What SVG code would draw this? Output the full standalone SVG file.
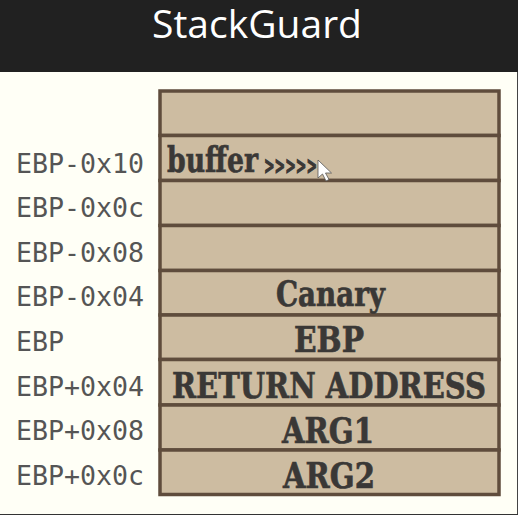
<svg xmlns="http://www.w3.org/2000/svg" width="518" height="515" viewBox="0 0 518 515">
<style>
.l{font-family:"DejaVu Sans Mono","Liberation Mono",monospace;font-size:26.6px;fill:#555}
.c{font-family:"DejaVu Serif","Liberation Serif",serif;font-size:36px;font-weight:bold;fill:#3a3836;stroke:#3a3836;stroke-width:.7;text-anchor:middle}
.s{fill:#cdbca1;stroke:#5f4c3c;stroke-width:3.5}
</style>
<rect width="518" height="515" fill="#fffff6"/>
<rect width="518" height="72" fill="#212121"/>
<rect x="517" y="72" width="1" height="443" fill="#444"/>
<rect y="514" width="518" height="1" fill="#333"/>
<text x="257" y="37.500" font-family="Open Sans,sans-serif" font-size="39" fill="#fff" text-anchor="middle">StackGuard</text>
<g id="stack">
<rect class="s" x="160" y="91" width="339" height="44.500"/>
<rect class="s" x="160" y="135.500" width="339" height="45"/>
<rect class="s" x="160" y="180.500" width="339" height="45"/>
<rect class="s" x="160" y="225.500" width="339" height="45"/>
<rect class="s" x="160" y="270.500" width="339" height="44.500"/>
<rect class="s" x="160" y="315" width="339" height="44.500"/>
<rect class="s" x="160" y="359.500" width="339" height="45.500"/>
<rect class="s" x="160" y="405" width="339" height="45"/>
<rect class="s" x="160" y="450" width="339" height="44.500"/>
</g>
<text class="c" x="167" y="172" style="text-anchor:start" textLength="91" lengthAdjust="spacingAndGlyphs">buffer</text>
<text class="c" x="264" y="174" style="text-anchor:start;font-size:24px;stroke-width:1.2" textLength="53" lengthAdjust="spacingAndGlyphs">&gt;&gt;&gt;&gt;&gt;</text>
<text class="c" x="330.500" y="306" textLength="109" lengthAdjust="spacingAndGlyphs">Canary</text>
<text class="c" x="329" y="352" textLength="70" lengthAdjust="spacingAndGlyphs">EBP</text>
<text class="c" x="329" y="398" textLength="314" lengthAdjust="spacingAndGlyphs">RETURN ADDRESS</text>
<text class="c" x="328" y="443" textLength="92" lengthAdjust="spacingAndGlyphs">ARG1</text>
<text class="c" x="329" y="488" textLength="92" lengthAdjust="spacingAndGlyphs">ARG2</text>
<text class="l" x="16" y="173">EBP-0x10</text>
<text class="l" x="16" y="217">EBP-0x0c</text>
<text class="l" x="16" y="262">EBP-0x08</text>
<text class="l" x="16" y="306">EBP-0x04</text>
<text class="l" x="16" y="351">EBP</text>
<text class="l" x="16" y="396">EBP+0x04</text>
<text class="l" x="16" y="440">EBP+0x08</text>
<text class="l" x="16" y="485">EBP+0x0c</text>
<path d="M318 160v18l4.500-4 3.500 7 3-1.500-3.500-6.500h6z" fill="#fff" stroke="#555" stroke-width=".8"/>
</svg>
